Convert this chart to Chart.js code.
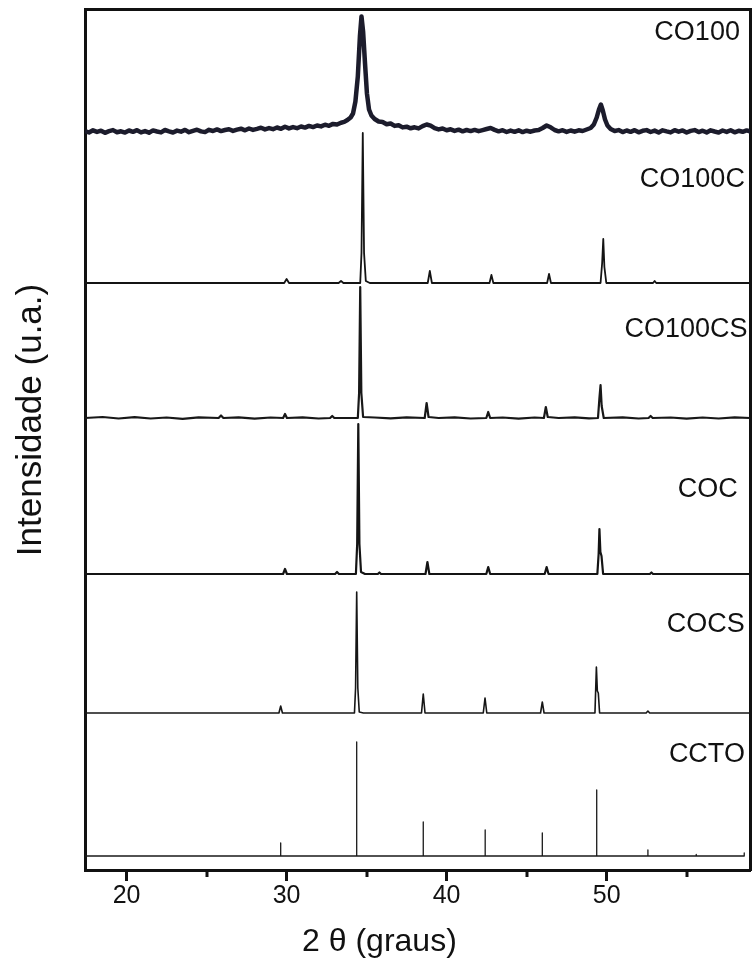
<!DOCTYPE html>
<html>
<head>
<meta charset="utf-8">
<script src="https://cdn.jsdelivr.net/npm/chart.js@4.4.1/dist/chart.umd.min.js"></script>
<style>
  html, body { margin: 0; padding: 0; background: #fff; }
  canvas { display: block; }
</style>
</head>
<body>
<canvas id="xrdChart" width="752" height="964"></canvas>
<script>
// series names, top to bottom, and their vertical offsets (u.a.)
const seriesNames = ['CO100', 'CO100C', 'CO100CS', 'COC', 'COCS', 'CCTO'];
const seriesOffsets = [738.5, 587, 452, 296, 157, 14];
const labelY = [837, 690, 540, 380, 245, 115];
const labelX = [58.33, 58.64, 58.8, 58.2, 58.64, 58.64];

const xMajorTicks = [20, 30, 40, 50];
const xMinorTicks = [25, 35, 45, 55];

// profiles: [2theta, intensity above own baseline]
const co100 = [
  [17.4,0.5],[17.65,-1],[17.9,1.2],[18.15,-0.4],[18.4,0.8],[18.65,-1.3],[18.9,0.3],[19.15,1.4],[19.4,-0.8],[19.65,0.2],
  [19.9,-1.1],[20.15,1],[20.4,-0.3],[20.65,1.3],[20.9,-0.9],[21.15,0.4],[21.4,-1.2],[21.65,1.1],[21.9,0],[22.15,-0.9],
  [22.4,1.5],[22.65,0.2],[22.9,-1],[23.15,0.9],[23.4,-0.2],[23.65,1.6],[23.9,-0.7],[24.15,0.6],[24.4,1.8],[24.65,0.1],
  [24.9,-0.6],[25.15,1.7],[25.4,0.5],[25.65,2.1],[25.9,0.4],[26.15,1.5],[26.4,2.3],[26.65,0.6],[26.9,1.9],[27.15,2.8],
  [27.4,1.2],[27.65,3],[27.9,1.6],[28.15,2.6],[28.4,3.8],[28.65,2.1],[28.9,3.4],[29.15,2.3],[29.4,4],[29.65,2.7],
  [29.9,4.8],[30.15,3.1],[30.4,4.4],[30.65,3.3],[30.9,5],[31.15,3.9],[31.4,5.6],[31.65,4.4],[31.9,6],[32.15,5.1],
  [32.4,6.8],[32.65,5.7],[32.9,7.6],[33.15,7],[33.4,8.8],[33.6,9.6],[33.8,11.5],[34.0,14],[34.15,18],[34.3,30],
  [34.45,55],[34.58,95],[34.68,115],[34.78,100],[34.9,68],[35.02,38],[35.15,22],[35.3,16],[35.5,12.5],[35.75,10],
  [36,9.5],[36.25,7.2],[36.5,8],[36.75,5.6],[37,6.3],[37.25,4.1],[37.5,4.8],[37.75,3.2],[38,4.2],[38.25,3.1],
  [38.5,5.4],[38.75,7],[39,5.8],[39.25,3.3],[39.5,2.1],[39.75,3],[40,1.2],[40.25,2.2],[40.5,0.6],[40.75,1.8],
  [41,0.2],[41.25,1.5],[41.5,0.4],[41.75,1.6],[42,0.3],[42.25,1.4],[42.5,2.5],[42.75,3.5],[43,1.6],[43.25,0.2],
  [43.5,1.3],[43.75,-0.5],[44,0.9],[44.25,-0.3],[44.5,1.2],[44.75,-0.6],[45,0.8],[45.25,-0.2],[45.5,1],[45.75,1.5],
  [46,3.5],[46.25,6],[46.5,4.2],[46.75,1.5],[47,0.2],[47.25,1.3],[47.5,-0.4],[47.75,1],[48,-0.2],[48.25,1.2],
  [48.5,0.5],[48.75,2],[49,3.5],[49.2,7],[49.38,14],[49.52,22],[49.64,27],[49.76,21],[49.9,12],[50.05,6],
  [50.25,2.5],[50.5,0.5],[50.75,1.4],[51,-0.6],[51.25,1],[51.5,-0.3],[51.75,1.3],[52,-0.8],[52.25,0.7],[52.5,1.4],
  [52.75,-0.5],[53,0.9],[53.25,-1],[53.5,1.2],[53.75,0.1],[54,-0.9],[54.25,1.3],[54.5,-0.2],[54.75,1.1],[55,-1],
  [55.25,0.6],[55.5,1.4],[55.75,-0.6],[56,0.8],[56.25,-0.9],[56.5,1.2],[56.75,0],[57,-1.1],[57.25,1],[57.5,-0.4],
  [57.75,1.3],[58,-0.8],[58.25,0.7],[58.5,-0.3],[58.75,1.1],[59,0]
];

const co100c = [
  [17.4,0],[29.85,0],[30.0,4],[30.15,0],[33.25,0],[33.4,2],[33.55,0],[34.6,0],[34.68,30],[34.76,150],[34.84,30],
  [34.95,2],[35.2,0],[38.82,0],[38.95,12],[39.08,0],[42.68,0],[42.8,8],[42.92,0],[46.28,0],[46.4,9],[46.52,0],
  [49.62,0],[49.72,20],[49.79,44],[49.86,16],[49.98,0],[52.9,0],[53.0,2],[53.1,0],[59,0]
];

const co100cs = [
  [17.4,0],[18.5,1],[19.5,-0.5],[20.5,0.8],[21.5,-0.5],[22.5,0.5],[23.5,-0.8],[24.5,0.6],[25.75,0],[25.9,2.5],
  [26.05,0],[27,0.7],[28,-0.6],[29,0.5],[29.78,0],[29.9,4],[30.02,0],[31,0.6],[32,-0.5],[32.72,0],[32.85,2],
  [32.98,0],[34.45,0],[34.53,25],[34.6,131],[34.67,25],[34.78,1],[35.5,0.5],[36.5,-0.4],[37.5,0.6],[38.63,0],
  [38.75,15],[38.87,1],[39.5,0],[40.5,0.6],[41.5,-0.5],[42.48,0],[42.6,6],[42.72,0],[43.5,0.5],[44.5,-0.6],
  [45.5,0.5],[46.08,0],[46.2,11],[46.32,1],[47,0],[48,0.6],[48.9,-0.4],[49.46,0],[49.55,20],[49.62,33],
  [49.69,12],[49.82,0],[51,0.6],[52,-0.5],[52.62,0],[52.75,2],[52.88,0],[54,0.5],[55,-0.6],[56,0.5],
  [57,-0.5],[58,0.6],[59,0]
];

const coc = [
  [17.4,0],[29.78,0],[29.9,5],[30.02,0],[33.03,0],[33.15,2],[33.27,0],[34.33,0],[34.41,30],[34.48,150],
  [34.55,30],[34.65,2],[34.9,0],[35.7,0],[35.8,1.5],[35.9,0],[38.68,0],[38.8,12],[38.92,0],[42.48,0],
  [42.6,7],[42.72,0],[46.13,0],[46.25,7],[46.37,0],[49.42,0],[49.5,20],[49.55,45],[49.61,22],[49.68,18],
  [49.78,0],[52.7,0],[52.8,1.5],[52.9,0],[59,0]
];

const cocs = [
  [17.4,0],[29.52,0],[29.63,7],[29.74,0],[34.24,0],[34.31,25],[34.38,121],[34.45,25],[34.54,1],[34.8,0],
  [38.43,0],[38.54,19],[38.65,0],[42.29,0],[42.4,15],[42.51,0],[45.87,0],[45.98,11],[46.09,0],[49.27,0],
  [49.36,46],[49.42,22],[49.48,20],[49.56,0],[52.47,0],[52.58,2],[52.69,0],[59,0]
];

// CCTO reference pattern: stick positions and heights
const cctoPos = [29.63, 34.38, 38.54, 42.41, 45.98, 49.38, 52.58, 55.6, 58.6];
const cctoInt = [13, 114, 34, 26, 23, 66, 6, 1.5, 3];

const cctoProfile = [[17.4, 0]];
cctoPos.forEach((p, i) => {
  cctoProfile.push([p, 0], [p, cctoInt[i]], [p, 0]);
});

const profiles = [co100, co100c, co100cs, coc, cocs, cctoProfile];
const lineColors = ['#1c1c2c', '#141414', '#181818', '#141414', '#161616', '#1a1a1a'];
const lineWidths = [4.5, 1.8, 2.2, 2.2, 1.6, 1.3];

const FONT = "'Liberation Sans', Arial, sans-serif";
const INK = '#111';

const datasets = profiles.map((prof, i) => ({
  label: seriesNames[i],
  data: prof.map(([x, v]) => ({ x: x, y: seriesOffsets[i] + v })),
  showLine: true,
  borderColor: lineColors[i],
  borderWidth: lineWidths[i],
  pointRadius: 0,
  tension: 0,
  borderJoinStyle: 'round',
  fill: false
}));

// series names at the right, plus axis titles (placed off-centre like the source)
const textLayer = {
  id: 'textLayer',
  afterDraw(chart) {
    const { ctx, scales } = chart;
    ctx.save();
    ctx.fillStyle = INK;
    ctx.font = '27px ' + FONT;
    ctx.textAlign = 'right';
    ctx.textBaseline = 'middle';
    seriesNames.forEach((name, i) => {
      ctx.fillText(name, scales.x.getPixelForValue(labelX[i]), scales.y.getPixelForValue(labelY[i]));
    });

    ctx.textAlign = 'center';
    ctx.font = '32px ' + FONT;
    ctx.fillText('2 θ (graus)', scales.x.getPixelForValue(35.8), 942);

    ctx.translate(31, scales.y.getPixelForValue(450));
    ctx.rotate(-Math.PI / 2);
    ctx.font = '35px ' + FONT;
    ctx.fillText('Intensidade (u.a.)', 0, 0);
    ctx.restore();
  }
};

const minorTicks = {
  id: 'minorTicks',
  afterDraw(chart) {
    const { ctx, scales, chartArea } = chart;
    ctx.save();
    ctx.strokeStyle = INK;
    ctx.lineWidth = 3;
    xMinorTicks.forEach(v => {
      const px = Math.round(scales.x.getPixelForValue(v));
      ctx.beginPath();
      ctx.moveTo(px, chartArea.bottom);
      ctx.lineTo(px, chartArea.bottom + 7);
      ctx.stroke();
    });
    ctx.restore();
  }
};

const ctx = document.getElementById('xrdChart').getContext('2d');
new Chart(ctx, {
  type: 'scatter',
  data: { datasets: datasets },
  options: {
    responsive: false,
    animation: false,
    devicePixelRatio: 1,
    layout: { padding: { top: 9, right: 2, left: 0, bottom: 0 } },
    plugins: { legend: { display: false }, tooltip: { enabled: false } },
    scales: {
      x: {
        type: 'linear',
        position: 'bottom',
        min: 17.4,
        max: 58.96,
        afterBuildTicks: s => { s.ticks = xMajorTicks.map(v => ({ value: v })); },
        afterFit: s => { s.height = 94; },
        grid: { drawOnChartArea: false, drawTicks: true, tickLength: 11, tickWidth: 3, tickColor: INK },
        border: { display: true, width: 3, color: INK },
        ticks: { font: { family: FONT, size: 25 }, color: INK, padding: 0, maxRotation: 0, autoSkip: false }
      },
      x2: {
        type: 'linear',
        position: 'top',
        min: 17.4,
        max: 58.96,
        afterFit: s => { s.height = 0; },
        grid: { display: false },
        ticks: { display: false },
        border: { display: true, width: 3, color: INK }
      },
      y: {
        type: 'linear',
        position: 'left',
        min: 0,
        max: 861,
        afterFit: s => { s.width = 85; },
        grid: { display: false },
        ticks: { display: false },
        border: { display: true, width: 3, color: INK }
      },
      y2: {
        type: 'linear',
        position: 'right',
        min: 0,
        max: 861,
        afterFit: s => { s.width = 0; },
        grid: { display: false },
        ticks: { display: false },
        border: { display: true, width: 3, color: INK }
      }
    }
  },
  plugins: [textLayer, minorTicks]
});
</script>
</body>
</html>
